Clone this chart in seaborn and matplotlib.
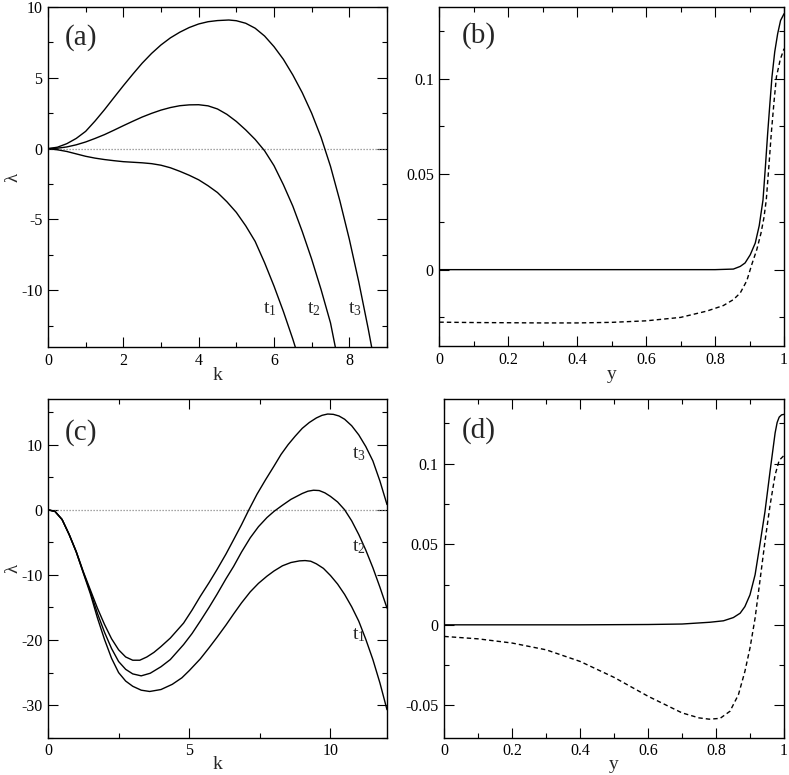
import numpy as np
import pandas as pd
import matplotlib
matplotlib.use("Agg")
import matplotlib.pyplot as plt
from matplotlib.ticker import MultipleLocator, FuncFormatter
import seaborn as sns

# ---------------- data ----------------
# Panel (a): lambda(k) for t1, t2, t3
k_a_t1 = [0, 0.25, 0.5, 0.75, 1, 1.25, 1.5, 1.75, 2, 2.25, 2.5, 2.75, 3, 3.25, 3.5, 3.75,
          4, 4.25, 4.5, 4.75, 5, 5.25, 5.5, 5.75, 6, 6.25, 6.5, 6.6]
lam_a_t1 = [0, -0.08, -0.2, -0.37, -0.54, -0.67, -0.77, -0.85, -0.92, -0.96, -1.0, -1.06,
            -1.17, -1.35, -1.6, -1.88, -2.2, -2.62, -3.1, -3.75, -4.5, -5.45, -6.55,
            -8.05, -9.7, -11.5, -13.45, -14.3]
k_a_t2 = [0, 0.25, 0.5, 0.75, 1, 1.25, 1.5, 1.75, 2, 2.25, 2.5, 2.75, 3, 3.25, 3.5, 3.75,
          4, 4.25, 4.5, 4.75, 5, 5.25, 5.5, 5.75, 6, 6.25, 6.5, 6.75, 7, 7.25, 7.5, 7.65]
lam_a_t2 = [0, 0.03, 0.12, 0.27, 0.47, 0.72, 0.99, 1.3, 1.62, 1.93, 2.23, 2.49, 2.72, 2.9,
            3.03, 3.09, 3.1, 3.02, 2.8, 2.42, 1.92, 1.32, 0.65, -0.15, -1.2, -2.55,
            -4.06, -5.85, -7.8, -9.95, -12.3, -14.3]
k_a_t3 = [0, 0.25, 0.5, 0.75, 1, 1.25, 1.5, 1.75, 2, 2.25, 2.5, 2.75, 3, 3.25, 3.5, 3.75,
          4, 4.25, 4.5, 4.8, 5, 5.25, 5.5, 5.75, 6, 6.25, 6.5, 6.75, 7, 7.25, 7.5, 7.75,
          8, 8.25, 8.5, 8.62]
lam_a_t3 = [0, 0.1, 0.35, 0.72, 1.22, 1.95, 2.75, 3.6, 4.44, 5.25, 6.03, 6.72, 7.32, 7.82,
            8.22, 8.55, 8.8, 8.96, 9.04, 9.08, 9.03, 8.85, 8.5, 7.95, 7.2, 6.3, 5.2, 3.95,
            2.5, 0.8, -1.25, -3.7, -6.4, -9.4, -12.7, -14.4]

# Panel (b): two profiles vs y
y_b_solid = [0, 0.2, 0.4, 0.6, 0.8, 0.853, 0.873, 0.887, 0.902, 0.9165, 0.928, 0.939,
             0.946, 0.9525, 0.959, 0.965, 0.973, 0.9815, 0.99, 1.0]
v_b_solid = [0, 0, 0, 0, 0, 0.0003, 0.0017, 0.0035, 0.0078, 0.0139, 0.023, 0.0365,
             0.054, 0.0713, 0.087, 0.1009, 0.114, 0.1235, 0.1305, 0.134]
y_b_dash = [0, 0.1, 0.2, 0.3, 0.4, 0.5, 0.6, 0.7, 0.776, 0.824, 0.853, 0.873, 0.892,
            0.907, 0.921, 0.933, 0.9415, 0.9485, 0.956, 0.963, 0.971, 0.978, 0.989, 1.0]
v_b_dash = [-0.0275, -0.0277, -0.0278, -0.0279, -0.0279, -0.0276, -0.0268, -0.025,
            -0.0217, -0.0188, -0.0157, -0.0122, -0.0058, 0.0030, 0.0105, 0.019, 0.027,
            0.0365, 0.054, 0.0713, 0.088, 0.101, 0.110, 0.1157]

# Panel (c): lambda(k) for t1, t2, t3
k_c_t1 = [0, 0.25, 0.5, 0.75, 1, 1.25, 1.5, 1.75, 2, 2.25, 2.5, 2.75, 3, 3.3, 3.6, 4,
          4.4, 4.74, 5, 5.39, 5.7, 5.98, 6.3, 6.57, 6.85, 7.16, 7.45, 7.75, 8, 8.3, 8.6,
          8.9, 9.1, 9.3, 9.5, 9.75, 10, 10.25, 10.5, 10.75, 11, 11.25, 11.5, 11.75, 12]
lam_c_t1 = [0, -0.26, -1.5, -3.8, -6.5, -9.7, -12.9, -16.6, -19.9, -22.8, -25.0, -26.3,
            -27.1, -27.7, -27.9, -27.6, -26.8, -25.8, -24.7, -22.9, -21.2, -19.6, -17.7,
            -16.0, -14.3, -12.6, -11.3, -10.2, -9.4, -8.6, -8.1, -7.85, -7.8, -7.9, -8.3,
            -9.0, -10.1, -11.4, -13.0, -14.9, -17.1, -19.9, -23.0, -26.6, -30.7]
k_c_t2 = [0, 0.25, 0.5, 0.75, 1, 1.25, 1.5, 1.75, 2, 2.25, 2.5, 2.75, 3, 3.3, 3.62, 4,
          4.33, 4.8, 5.1, 5.39, 5.7, 5.98, 6.3, 6.57, 6.85, 7.16, 7.45, 7.75, 8, 8.3, 8.6,
          9, 9.2, 9.4, 9.6, 9.8, 10, 10.25, 10.5, 10.75, 11, 11.25, 11.5, 11.75, 12]
lam_c_t2 = [0, -0.26, -1.5, -3.8, -6.45, -9.6, -12.6, -15.9, -18.8, -21.3, -23.3, -24.5,
            -25.2, -25.5, -25.1, -24.1, -23.0, -20.7, -19.0, -17.1, -15.0, -13.0, -10.6,
            -8.7, -6.5, -4.3, -2.6, -1.2, -0.25, 0.7, 1.6, 2.5, 2.85, 3.0, 2.95, 2.6,
            2.05, 1.2, 0.0, -1.7, -3.8, -6.2, -8.9, -11.9, -15.1]
k_c_t3 = [0, 0.25, 0.5, 0.75, 1, 1.25, 1.5, 1.75, 2, 2.25, 2.5, 2.75, 3, 3.25, 3.5, 3.75,
          4, 4.33, 4.8, 5.1, 5.39, 5.7, 5.98, 6.3, 6.57, 6.85, 7.1, 7.4, 7.7, 8, 8.25,
          8.5, 8.75, 9, 9.25, 9.5, 9.7, 9.9, 10.1, 10.3, 10.5, 10.75, 11, 11.25, 11.5,
          11.75, 12]
lam_c_t3 = [0, -0.26, -1.5, -3.8, -6.4, -9.5, -12.3, -15.1, -17.6, -19.8, -21.5, -22.6,
            -23.1, -23.1, -22.6, -21.9, -21.0, -19.7, -17.4, -15.4, -13.3, -11.2, -9.2,
            -6.8, -4.6, -2.3, -0.1, 2.4, 4.6, 6.7, 8.5, 10.0, 11.3, 12.5, 13.4, 14.1,
            14.5, 14.7, 14.65, 14.4, 13.9, 12.9, 11.5, 9.7, 7.5, 4.4, 0.8]

# Panel (d): two profiles vs y
y_d_solid = [0, 0.2, 0.4, 0.6, 0.7, 0.782, 0.822, 0.851, 0.871, 0.885, 0.9, 0.915,
             0.929, 0.944, 0.959, 0.969, 0.974, 0.98, 0.986, 0.993, 1.0]
v_d_solid = [0, 0, 0, 0.0002, 0.0005, 0.0016, 0.0025, 0.0045, 0.0072, 0.0113, 0.0186,
             0.031, 0.0495, 0.070, 0.095, 0.111, 0.119, 0.1255, 0.1288, 0.1302, 0.1305]
y_d_dash = [0, 0.1, 0.2, 0.3, 0.4, 0.5, 0.6, 0.7, 0.75, 0.78, 0.812, 0.841, 0.866,
            0.885, 0.9, 0.915, 0.929, 0.944, 0.959, 0.974, 0.986, 1.0]
v_d_dash = [-0.0072, -0.0087, -0.0113, -0.0155, -0.0227, -0.0326, -0.0443, -0.0546,
            -0.0577, -0.0585, -0.0580, -0.0536, -0.0433, -0.0289, -0.0144, 0.0041,
            0.0268, 0.0515, 0.074, 0.093, 0.102, 0.105]

panel_labels = ["(a)", "(b)", "(c)", "(d)"]
curve_labels = ["t$_1$", "t$_2$", "t$_3$"]
a_label_pos = [(5.71, -11.6), (6.88, -11.6), (7.97, -11.6)]
c_label_pos = [(10.77, -19.9), (10.77, -6.4), (10.77, 7.9)]

# ---------------- style ----------------
sns.set_theme(style="ticks")
plt.rcParams["font.family"] = ["Liberation Serif", "DejaVu Serif"]
plt.rcParams["mathtext.fontset"] = "custom"
plt.rcParams["mathtext.rm"] = "Liberation Serif"
plt.rcParams["mathtext.it"] = "Liberation Serif"
plt.rcParams["axes.unicode_minus"] = False
plt.rcParams["axes.linewidth"] = 1.0
plt.rcParams["axes.edgecolor"] = "black"

TICK_FS = 11.5
LAB_FS = 14
LAMBDA_FS = 13.5
PANEL_FS = 21
CURVE_FS = 14

fig = plt.figure(figsize=(7.89, 7.75), dpi=100)
ax_a = fig.add_axes([0.0608, 0.5523, 0.4297, 0.4387])
ax_b = fig.add_axes([0.5568, 0.5535, 0.4369, 0.4374])
ax_c = fig.add_axes([0.0608, 0.0481, 0.4297, 0.4370])
ax_d = fig.add_axes([0.5631, 0.0481, 0.4305, 0.4370])

line_kw = dict(color="black", linewidth=1.0, estimator=None, sort=False)
DASH = (0, (3.2, 2.2))


def style_axes(ax):
    ax.tick_params(which="both", direction="in", top=True, right=True,
                   colors="black", labelsize=TICK_FS, width=0.8)
    ax.tick_params(which="major", length=7)
    ax.tick_params(which="minor", length=3.5)
    ax.tick_params(axis="x", pad=4)
    ax.tick_params(axis="y", pad=4)
    for s in ax.spines.values():
        s.set_visible(True)
        s.set_color("black")
        s.set_linewidth(1.0)


def zero_line(ax):
    ax.axhline(0, color="#888888", linewidth=0.9, linestyle=(0, (1, 1.4)), zorder=1)


# (a)
for kk, ll in [(k_a_t1, lam_a_t1), (k_a_t2, lam_a_t2), (k_a_t3, lam_a_t3)]:
    sns.lineplot(x=kk, y=ll, ax=ax_a, **line_kw)
zero_line(ax_a)
ax_a.set_xlim(0, 9)
ax_a.set_ylim(-14, 10)
ax_a.xaxis.set_major_locator(MultipleLocator(2))
ax_a.xaxis.set_minor_locator(MultipleLocator(1))
ax_a.yaxis.set_major_locator(MultipleLocator(5))
ax_a.yaxis.set_minor_locator(MultipleLocator(2.5))
ax_a.set_xlabel("k", fontsize=LAB_FS, labelpad=-1)
ax_a.set_ylabel("λ", fontsize=LAMBDA_FS)
ax_a.yaxis.set_label_coords(-0.078, 0.5)
for lab, (x, y) in zip(curve_labels, a_label_pos):
    ax_a.text(x, y, lab, fontsize=CURVE_FS, ha="left", va="baseline")

# (b)
sns.lineplot(x=y_b_solid, y=v_b_solid, ax=ax_b, **line_kw)
sns.lineplot(x=y_b_dash, y=v_b_dash, ax=ax_b, **line_kw)
ax_b.lines[-1].set_linestyle(DASH)
ax_b.set_xlim(0, 1)
ax_b.set_ylim(-0.04, 0.1375)
ax_b.xaxis.set_major_locator(MultipleLocator(0.2))
ax_b.xaxis.set_minor_locator(MultipleLocator(0.1))
ax_b.yaxis.set_major_locator(MultipleLocator(0.05))
ax_b.yaxis.set_minor_locator(MultipleLocator(0.025))
ax_b.set_xlabel("y", fontsize=LAB_FS, labelpad=-1)
ax_b.set_ylabel("")

# (c)
for kk, ll in [(k_c_t1, lam_c_t1), (k_c_t2, lam_c_t2), (k_c_t3, lam_c_t3)]:
    sns.lineplot(x=kk, y=ll, ax=ax_c, **line_kw)
zero_line(ax_c)
ax_c.set_xlim(0, 12)
ax_c.set_ylim(-35, 17)
ax_c.xaxis.set_major_locator(MultipleLocator(5))
ax_c.xaxis.set_minor_locator(MultipleLocator(2.5))
ax_c.yaxis.set_major_locator(MultipleLocator(10))
ax_c.yaxis.set_minor_locator(MultipleLocator(5))
ax_c.set_xlabel("k", fontsize=LAB_FS, labelpad=-2.5)
ax_c.set_ylabel("λ", fontsize=LAMBDA_FS)
ax_c.yaxis.set_label_coords(-0.078, 0.5)
for lab, (x, y) in zip(curve_labels, c_label_pos):
    ax_c.text(x, y, lab, fontsize=CURVE_FS, ha="left", va="baseline")

# (d)
sns.lineplot(x=y_d_solid, y=v_d_solid, ax=ax_d, **line_kw)
sns.lineplot(x=y_d_dash, y=v_d_dash, ax=ax_d, **line_kw)
ax_d.lines[-1].set_linestyle(DASH)
ax_d.set_xlim(0, 1)
ax_d.set_ylim(-0.07, 0.14)
ax_d.xaxis.set_major_locator(MultipleLocator(0.2))
ax_d.xaxis.set_minor_locator(MultipleLocator(0.1))
ax_d.yaxis.set_major_locator(MultipleLocator(0.05))
ax_d.yaxis.set_minor_locator(MultipleLocator(0.025))
ax_d.set_xlabel("y", fontsize=LAB_FS, labelpad=-2.5)
ax_d.set_ylabel("")


def fmt(v, pos=None):
    s = ("%.4f" % v).rstrip("0").rstrip(".")
    if s in ("-0", ""):
        s = "0"
    return s


for ax in (ax_a, ax_b, ax_c, ax_d):
    style_axes(ax)
    ax.xaxis.set_major_formatter(FuncFormatter(fmt))
    ax.yaxis.set_major_formatter(FuncFormatter(fmt))

panel_pos = [(0.05, 0.91), (0.065, 0.917), (0.05, 0.90), (0.051, 0.908)]
for ax, lab, (px, py) in zip((ax_a, ax_b, ax_c, ax_d), panel_labels, panel_pos):
    ax.text(px, py, lab, transform=ax.transAxes, fontsize=PANEL_FS,
            ha="left", va="center")

fig.savefig("out.png", dpi=100)
